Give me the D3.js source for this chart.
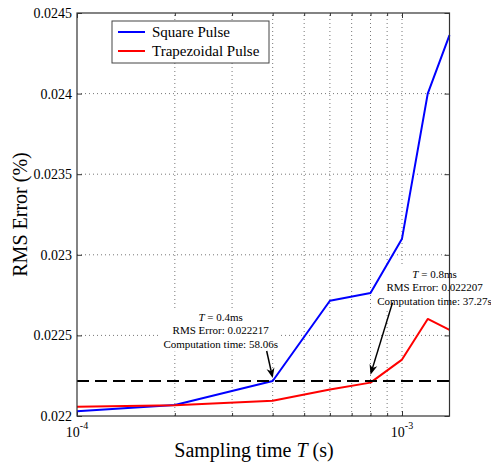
<!DOCTYPE html>
<html>
<head>
<meta charset="utf-8">
<script src="https://cdn.jsdelivr.net/npm/d3@7"></script>
<style>
  html, body { margin: 0; padding: 0; background: #fff; }
  svg { display: block; }
  svg text { font-family: "Liberation Serif", "Times New Roman", serif; }
</style>
</head>
<body>
<svg id="chart" width="491" height="466"></svg>
<script>
// ---- data ----
const samplingTimes = [1e-4, 2e-4, 4e-4, 6e-4, 8e-4, 1e-3, 1.2e-3, 1.4e-3];
const squarePulse = [0.02203, 0.022068, 0.022217, 0.022715, 0.022763, 0.0231, 0.0240, 0.024363];
const trapezoidalPulse = [0.022058, 0.022066, 0.022095, 0.022165, 0.022207, 0.02235, 0.022602, 0.022534];
const seriesNames = ["Square Pulse", "Trapezoidal Pulse"];
const seriesColors = ["#0000ff", "#ff0000"];
const yTickValues = [0.022, 0.0225, 0.023, 0.0235, 0.024, 0.0245];
const yTickLabels = ["0.022", "0.0225", "0.023", "0.0235", "0.024", "0.0245"];
const xMajorTicks = [1e-4, 1e-3];
const xMajorExponents = ["-4", "-3"];
const xMinorTicks = [2e-4, 3e-4, 4e-4, 5e-4, 6e-4, 7e-4, 8e-4, 9e-4];
const thresholdValue = 0.022217;
const annotationT = [4e-4, 8e-4];
const annotationRms = [0.022217, 0.022207];
const annotationTimeLabels = ["0.4ms", "0.8ms"];
const annotationRmsLabels = ["0.022217", "0.022207"];
const annotationCompLabels = ["58.06s", "37.27s"];

// ---- layout ----
const FONT = "Liberation Serif";
const L = 77, T = 13, R = 449.5, B = 416;
const svg = d3.select("#chart");
const x = d3.scaleLog().domain([1e-4, 1.4e-3]).range([L, R]);
const y = d3.scaleLinear().domain([0.022, 0.0245]).range([B, T]);

const layerGrid = svg.append("g");
const layerBg = svg.append("g");
const layerAxes = svg.append("g");
const layerData = svg.append("g");
const layerAnno = svg.append("g");
const layerLegend = svg.append("g");

// grid
const grid = layerGrid.append("g").attr("stroke", "#777").attr("stroke-width", 1)
  .attr("stroke-dasharray", "1,3").attr("fill", "none");
xMinorTicks.concat([1e-3]).forEach(v => {
  grid.append("line").attr("x1", x(v)).attr("x2", x(v)).attr("y1", B).attr("y2", T);
});
yTickValues.slice(1, -1).forEach(v => {
  grid.append("line").attr("x1", L).attr("x2", R).attr("y1", y(v)).attr("y2", y(v));
});

// axes (inward ticks, box)
const axisColor = "#333";
const gB = layerAxes.append("g").attr("transform", `translate(0,${B})`)
  .call(d3.axisBottom(x).tickValues(xMajorTicks).tickSize(-5).tickFormat(""));
const gBm = layerAxes.append("g").attr("transform", `translate(0,${B})`)
  .call(d3.axisBottom(x).tickValues(xMinorTicks).tickSize(-3).tickFormat(""));
const gT = layerAxes.append("g").attr("transform", `translate(0,${T})`)
  .call(d3.axisTop(x).tickValues(xMajorTicks).tickSize(-5).tickFormat(""));
const gTm = layerAxes.append("g").attr("transform", `translate(0,${T})`)
  .call(d3.axisTop(x).tickValues(xMinorTicks).tickSize(-3).tickFormat(""));
const gL = layerAxes.append("g").attr("transform", `translate(${L},0)`)
  .call(d3.axisLeft(y).tickValues(yTickValues).tickSize(-5).tickPadding(5)
    .tickFormat((d, i) => yTickLabels[i]));
const gR = layerAxes.append("g").attr("transform", `translate(${R},0)`)
  .call(d3.axisRight(y).tickValues(yTickValues).tickSize(-5).tickFormat(""));
[gB, gBm, gT, gTm, gL, gR].forEach(g => {
  g.attr("font-family", FONT);
  g.select(".domain").remove();
  g.selectAll(".tick line").attr("stroke", axisColor);
});
gL.selectAll(".tick text").attr("font-family", FONT).attr("font-size", 14).attr("fill", "#000");

// x tick labels 10^n
xMajorTicks.forEach((v, i) => {
  const t = layerAxes.append("text").attr("x", x(v)).attr("y", 437).attr("text-anchor", "middle")
    .attr("font-family", FONT).attr("font-size", 14).attr("fill", "#000");
  t.append("tspan").text("10");
  t.append("tspan").attr("dy", -8).attr("font-size", 10).text(xMajorExponents[i]);
});

// lines
const lineGen = vals => d3.line().x((d, i) => x(samplingTimes[i])).y(d => y(d))(vals);
[squarePulse, trapezoidalPulse].forEach((vals, k) => {
  layerData.append("path").attr("d", lineGen(vals)).attr("fill", "none")
    .attr("stroke", seriesColors[k]).attr("stroke-width", 2).attr("stroke-linejoin", "round");
});

// threshold dashed line
layerData.append("line").attr("x1", x(1e-4)).attr("x2", x(1.45e-3))
  .attr("y1", y(thresholdValue)).attr("y2", y(thresholdValue))
  .attr("stroke", "#000").attr("stroke-width", 2).attr("stroke-dasharray", "12,6");

// box border
layerData.append("rect").attr("x", L).attr("y", T).attr("width", R - L).attr("height", B - T)
  .attr("fill", "none").attr("stroke", axisColor).attr("stroke-width", 1.2);

// annotations
const textOffsets = [[-52, -60], [64, -104.5]];
const arrowTail = [[-6, -27], [22, -72]];
const arrowTipLift = [3, 8];
annotationT.forEach((tv, i) => {
  const px = x(tv), py = y(annotationRms[i]);
  const cx = px + textOffsets[i][0], by = py + textOffsets[i][1];
  const bg = layerBg.append("rect").attr("fill", "#fff");
  const txt = layerAnno.append("g").attr("font-family", FONT).attr("font-size", 11)
    .attr("fill", "#000").attr("text-anchor", "middle");
  const l1 = txt.append("text").attr("x", cx).attr("y", by);
  l1.append("tspan").attr("font-style", "italic").text("T");
  l1.append("tspan").text(" = " + annotationTimeLabels[i]);
  txt.append("text").attr("x", cx).attr("y", by + 13.3).text("RMS Error: " + annotationRmsLabels[i]);
  txt.append("text").attr("x", cx).attr("y", by + 26.6).text("Computation time: " + annotationCompLabels[i]);
  const bb = txt.node().getBBox();
  bg.attr("x", bb.x - 3).attr("y", bb.y - 2).attr("width", bb.width + 6).attr("height", bb.height + 4);

  // arrow
  const tx = px, ty = py - arrowTipLift[i];
  const sx = tx + arrowTail[i][0], sy = ty + arrowTail[i][1];
  const dx = tx - sx, dy = ty - sy, len = Math.hypot(dx, dy);
  const ux = dx / len, uy = dy / len, nx = -uy, ny = ux;
  const hl = 10, hw = 4;
  layerAnno.append("line").attr("x1", sx).attr("y1", sy).attr("x2", tx - ux * hl * 0.6).attr("y2", ty - uy * hl * 0.6)
    .attr("stroke", "#000").attr("stroke-width", 1.5);
  const pts = [
    [tx, ty],
    [tx - ux * hl + nx * hw, ty - uy * hl + ny * hw],
    [tx - ux * hl * 0.7, ty - uy * hl * 0.7],
    [tx - ux * hl - nx * hw, ty - uy * hl - ny * hw]
  ];
  layerAnno.append("path").attr("d", "M" + pts.map(p => p.join(",")).join("L") + "Z").attr("fill", "#000");
});

// legend
layerLegend.append("rect").attr("x", 112).attr("y", 21).attr("width", 157).attr("height", 42)
  .attr("fill", "#fff").attr("stroke", "#444").attr("stroke-width", 1);
seriesNames.forEach((name, i) => {
  const ly = 32 + i * 19;
  layerLegend.append("line").attr("x1", 118).attr("x2", 145).attr("y1", ly).attr("y2", ly)
    .attr("stroke", seriesColors[i]).attr("stroke-width", 2);
  layerLegend.append("text").attr("x", 152).attr("y", ly + 5).attr("font-family", FONT)
    .attr("font-size", 15).attr("fill", "#000").text(name);
});

// axis titles
const xt = svg.append("text").attr("x", 254).attr("y", 457).attr("text-anchor", "middle")
  .attr("font-family", FONT).attr("font-size", 20).attr("fill", "#000");
xt.append("tspan").text("Sampling time ");
xt.append("tspan").attr("font-style", "italic").text("T");
xt.append("tspan").text(" (s)");
svg.append("text").attr("transform", `translate(27,${(T + B) / 2}) rotate(-90)`)
  .attr("font-family", FONT).attr("text-anchor", "middle").attr("font-size", 20).attr("fill", "#000")
  .text("RMS Error (%)");
</script>
</body>
</html>
